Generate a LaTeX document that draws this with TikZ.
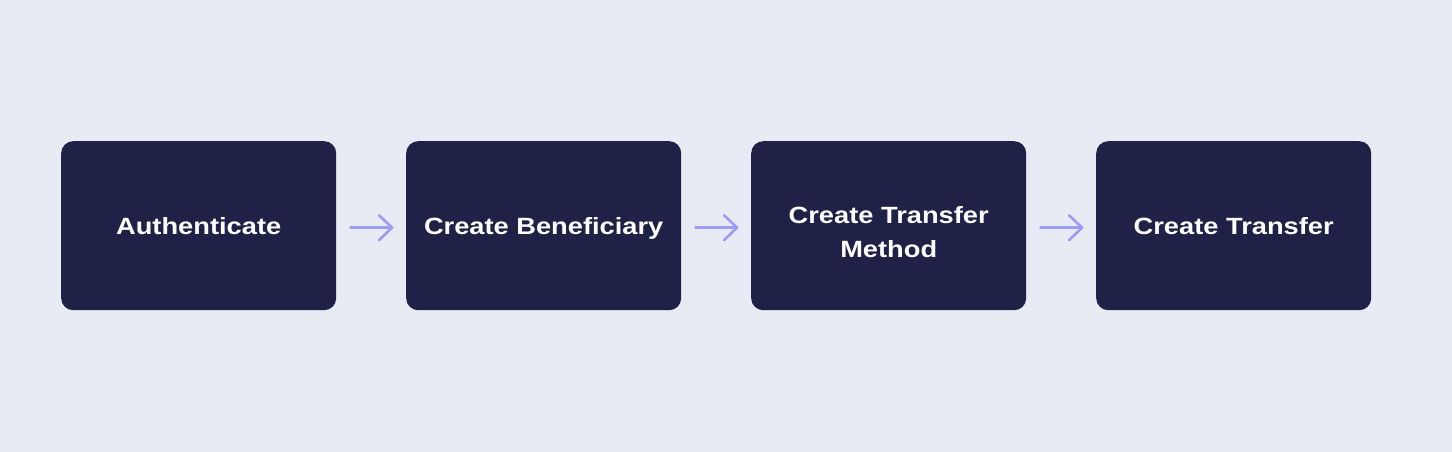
\documentclass[tikz,border=0pt]{standalone}
\usepackage{fontspec}
\setmainfont{Liberation Sans}[FakeStretch=1.16]
\definecolor{bgc}{HTML}{E8EBF3}
\definecolor{boxc}{HTML}{1F2147}
\definecolor{arrc}{HTML}{9A9CF8}
\begin{document}
\begin{tikzpicture}[x=1pt,y=-1pt,
  stepbox/.style={fill=boxc, rounded corners=12pt, minimum width=275pt, minimum height=169pt,
    inner sep=0pt, anchor=north west},
  lbl/.style={text=white, anchor=base, inner sep=0pt, font=\fontsize{23.5}{32}\selectfont\bfseries},
  flow/.style={draw=arrc, line width=2.6pt, line cap=round, line join=round}]
\fill[bgc] (0,0) rectangle (1452,452);
\useasboundingbox (0,0) rectangle (1452,452);
\node[stepbox] (a) at (61,141) {};
\node[stepbox] (b) at (406,141) {};
\node[stepbox] (c) at (751,141) {};
\node[stepbox] (d) at (1096,141) {};
\node[lbl] (ta) at ([yshift=-8.5pt]a.center) {Authenticate};
\node[lbl] (tb) at ([yshift=-8.5pt]b.center) {Create Beneficiary};
\node[lbl] (tc1) at ([yshift=2.5pt]c.center) {Create Transfer};
\node[lbl] (tc2) at ([yshift=-31.5pt]c.center) {Method};
\node[lbl] (td) at ([yshift=-8.5pt]d.center) {Create Transfer};
\foreach \p/\q in {a/b,b/c,c/d}{
  \coordinate (s\p) at ([xshift=14pt,yshift=-2pt]\p.east);
  \coordinate (e\p) at ([xshift=-14pt,yshift=-2pt]\q.west);
  \draw[flow] (s\p) -- (e\p);
  \draw[flow] ([shift={(-13pt,-12.5pt)}]e\p) -- (e\p) -- ([shift={(-13pt,12.5pt)}]e\p);
}
\end{tikzpicture}
\end{document}
